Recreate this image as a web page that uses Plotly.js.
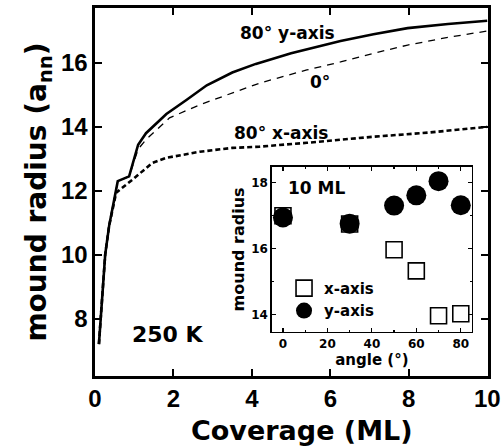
<!DOCTYPE html>
<html>
<head>
<meta charset="utf-8">
<script src="https://cdn.plot.ly/plotly-3.0.1.min.js"></script>
<style>html,body{margin:0;padding:0;background:#fff;}#chart{width:502px;height:446px;}</style>
</head>
<body>
<div id="chart"></div>
<script>
// Main panel: mound radius vs coverage at 250 K
const covY80 = [0.1, 0.15, 0.26, 0.36, 0.54, 0.58, 0.87, 1.1, 1.3, 1.82, 2.33, 2.85, 3.5, 4.1, 5.0, 6.26, 7.1, 7.97, 9.0, 10.0];
const radY80 = [7.2, 8.0, 10.0, 10.9, 12.0, 12.3, 12.45, 13.44, 13.8, 14.4, 14.84, 15.3, 15.7, 15.97, 16.3, 16.69, 16.9, 17.09, 17.22, 17.32];
const cov0 = [0.1, 0.15, 0.26, 0.36, 0.54, 0.58, 0.87, 1.1, 1.3, 1.9, 2.67, 3.5, 4.2, 5.4, 6.26, 7.1, 7.97, 9.0, 10.0];
const rad0 = [7.2, 8.0, 10.0, 10.9, 12.0, 12.3, 12.45, 13.3, 13.6, 14.28, 14.69, 15.06, 15.37, 15.78, 16.03, 16.3, 16.56, 16.8, 17.0];
const covX80 = [0.1, 0.15, 0.26, 0.36, 0.54, 0.95, 1.46, 1.82, 2.67, 3.5, 4.2, 5.4, 7.1, 8.5, 10.0];
const radX80 = [7.2, 8.0, 10.0, 10.9, 11.94, 12.34, 12.87, 13.03, 13.22, 13.34, 13.38, 13.5, 13.69, 13.82, 14.0];

// Inset: mound radius at 10 ML vs angle
const angles = [0, 30, 50, 60, 70, 80];
const radXaxis = [17.0, 16.75, 15.97, 15.33, 13.97, 14.03];
const radYaxis = [16.95, 16.76, 17.31, 17.62, 18.05, 17.32];

const mainTicks = [8, 10, 12, 14, 16];
const covTicks = [0, 2, 4, 6, 8, 10];
const angleTicks = [0, 20, 40, 60, 80];
const insetYTicks = [14, 16, 18];

const FA = 'Liberation Sans, Arial, sans-serif';
const FD = 'DejaVu Sans, sans-serif';

const traces = [
  {x: covY80, y: radY80, mode: 'lines', line: {color: '#000', width: 2.6}, showlegend: false, xaxis: 'x', yaxis: 'y'},
  {x: cov0, y: rad0, mode: 'lines', line: {color: '#000', width: 1.3, dash: '7px,6px'}, showlegend: false, xaxis: 'x', yaxis: 'y'},
  {x: covX80, y: radX80, mode: 'lines', line: {color: '#000', width: 2.6, dash: '5px,3px'}, showlegend: false, xaxis: 'x', yaxis: 'y'},
  {x: angles, y: radXaxis, name: 'x-axis', mode: 'markers', marker: {symbol: 'square-open', size: 16, color: '#000', line: {width: 1.6, color: '#000'}}, xaxis: 'x2', yaxis: 'y2'},
  {x: angles, y: radYaxis, name: 'y-axis', mode: 'markers', marker: {symbol: 'circle', size: 20, color: '#000'}, xaxis: 'x2', yaxis: 'y2'}
];

const axCommon = {showline: true, linecolor: '#000', mirror: 'ticks', ticks: 'inside', tickcolor: '#000', zeroline: false, showgrid: false};

const layout = {
  width: 502, height: 446,
  margin: {l: 95, r: 14, t: 8, b: 70},
  paper_bgcolor: '#fff', plot_bgcolor: '#fff',
  font: {family: FD, color: '#000'},
  xaxis: Object.assign({}, axCommon, {
    domain: [0, 1], range: [0, 10.02], tickvals: covTicks, linewidth: 2.6, tickwidth: 2, ticklen: 7,
    tickfont: {size: 24, family: FA, weight: 'bold'}
  }),
  yaxis: Object.assign({}, axCommon, {
    domain: [0, 1], range: [6.2, 17.72], tickvals: mainTicks, linewidth: 2.6, tickwidth: 2, ticklen: 7,
    tickfont: {size: 24, family: FA, weight: 'bold'},
    title: {text: 'mound radius (a<sub>nn</sub>)', font: {size: 28, family: FD, weight: 'bold'}, standoff: 6}
  }),
  xaxis2: Object.assign({}, axCommon, {
    domain: [0.450, 0.959], anchor: 'y2', range: [-5, 85], tickvals: angleTicks, linewidth: 1.6, tickwidth: 1.2, ticklen: 4,
    tickfont: {size: 12, family: FD, weight: 'bold'},
    title: {text: 'angle (°)', font: {size: 15, family: FD, weight: 'bold'}, standoff: 2},
    minor: {ticks: 'inside', tickcolor: '#000', ticklen: 2, dtick: 10}
  }),
  yaxis2: Object.assign({}, axCommon, {
    domain: [0.12, 0.568], anchor: 'x2', range: [13.48, 18.48], tickvals: insetYTicks, linewidth: 1.6, tickwidth: 1.2, ticklen: 4,
    tickfont: {size: 12, family: FD, weight: 'bold'},
    title: {text: 'mound radius', font: {size: 16, family: FD, weight: 'bold'}, standoff: 2},
    minor: {ticks: 'inside', tickcolor: '#000', ticklen: 2, dtick: 1}
  }),
  legend: {x: 0.481, y: 0.283, xanchor: 'left', yanchor: 'top', bgcolor: 'rgba(0,0,0,0)', font: {size: 15, family: FD, weight: 'bold'}, tracegroupgap: 0, itemsizing: 'trace'},
  annotations: [
    {xref: 'paper', yref: 'paper', x: 0.527, y: -0.147, xanchor: 'center', yanchor: 'middle', text: 'Coverage (ML)', showarrow: false, font: {size: 27, family: FD, weight: 'bold'}},
    {xref: 'x', yref: 'y', x: 4.92, y: 16.94, text: '80° y-axis', showarrow: false, font: {size: 17, family: FD, weight: 'bold'}},
    {xref: 'x', yref: 'y', x: 5.74, y: 15.4, text: '0°', showarrow: false, font: {size: 17, family: FD, weight: 'bold'}},
    {xref: 'x', yref: 'y', x: 4.74, y: 13.81, text: '80° x-axis', showarrow: false, font: {size: 17, family: FD, weight: 'bold'}},
    {xref: 'x', yref: 'y', x: 1.87, y: 7.5, text: '250 K', showarrow: false, font: {size: 22, family: FD, weight: 'bold'}},
    {xref: 'x2', yref: 'y2', x: 15, y: 17.85, text: '10 ML', showarrow: false, font: {size: 17, family: FD, weight: 'bold'}}
  ]
};

Plotly.newPlot('chart', traces, layout, {displayModeBar: false, staticPlot: true});
</script>
</body>
</html>
